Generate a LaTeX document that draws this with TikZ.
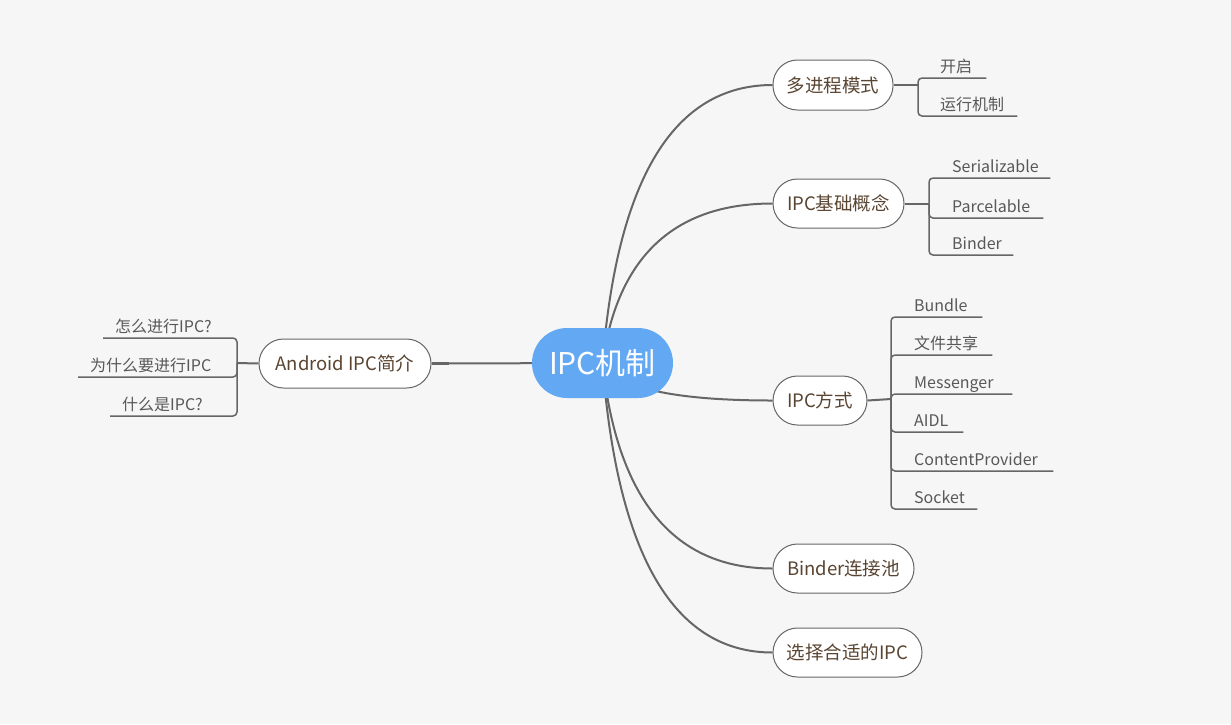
\documentclass[tikz,border=0pt]{standalone}
\usepackage{fontspec}
\setmainfont{Noto Sans CJK SC}
\pgfdeclarelayer{bglayer}
\pgfdeclarelayer{edgelayer}
\pgfsetlayers{bglayer,edgelayer,main}
\definecolor{bgc}{HTML}{F6F6F6}
\definecolor{rootc}{HTML}{62A8F3}
\definecolor{edgec}{HTML}{666666}
\definecolor{topictext}{HTML}{5A4532}
\definecolor{subtext}{HTML}{585858}
\begin{document}
\begin{tikzpicture}[x=1pt,y=-1pt,
  rootnode/.style={fill=rootc, text=white, rounded corners=35pt, minimum height=70pt, inner sep=0pt, font=\fontsize{30}{36}\selectfont},
  topic/.style={draw=edgec, line width=1pt, fill=white, rounded corners=24.5pt, minimum height=49pt, inner sep=0pt, text=topictext, font=\fontsize{18.5}{22}\selectfont},
  subitem/.style={inner xsep=0pt, inner ysep=0pt, text depth=5pt, align=left, text=subtext, font=\fontsize{16}{19}\selectfont},
  mainedge/.style={draw=edgec, line width=2pt},
  stubedge/.style={draw=edgec, line width=2pt},
  subedge/.style={draw=edgec, line width=1.5pt, rounded corners=4pt}]
\useasboundingbox (0,0) rectangle (1231,724);
\begin{pgfonlayer}{bglayer}
  \fill[bgc] (0,0) rectangle (1231,724);
\end{pgfonlayer}

% root and main topics
\node[rootnode, minimum width=141pt] (root) at (602.5,363) {IPC机制};
\node[topic, minimum width=120pt, minimum height=50pt] (n1) at (833,85) {多进程模式};
\node[topic, minimum width=131pt] (n2) at (838.5,203.5) {IPC基础概念};
\node[topic, minimum width=94pt] (n3) at (820,400.5) {IPC方式};
\node[topic, minimum width=141pt] (n4) at (843.5,568.5) {Binder连接池};
\node[topic, minimum width=149pt] (n5) at (847.5,652.5) {选择合适的IPC};
\node[topic, minimum width=172pt] (nl) at (345,363.5) {Android IPC简介};

\begin{pgfonlayer}{edgelayer}
  \draw[mainedge] (root.center) .. controls (617.3,177.7) and (674.3,85) .. (n1.west);
  \draw[mainedge] (root.center) .. controls (617.3,256.7) and (674.3,203.5) .. (n2.west);
  \draw[mainedge] (root.center) .. controls (617.3,388) and (674.3,400.5) .. (n3.west);
  \draw[mainedge] (root.center) .. controls (617.3,500) and (674.3,568.5) .. (n4.west);
  \draw[mainedge] (root.center) .. controls (617.3,556) and (674.3,652.5) .. (n5.west);
  \draw[mainedge] (root.center) -- (nl.east);
  \draw[draw=edgec, line width=3.5pt] (nl.east) -- ++(17,0);
\end{pgfonlayer}

% group 1
\coordinate (b1) at (918,85);
\draw[stubedge] (n1.east) -- (b1);
\node[subitem, anchor=south west, text width=46pt] (c11) at (940,78) {开启};
\node[subitem, anchor=south west, text width=77pt] (c12) at (940,116) {运行机制};
\draw[subedge] (b1) |- (c11.south east);
\draw[subedge] (b1) |- (c12.south east);

% group 2
\coordinate (b2) at (929,203.5);
\draw[stubedge] (n2.east) -- (b2);
\node[subitem, anchor=south west, text width=98pt] (c21) at (952,178) {Serializable};
\node[subitem, anchor=south west, text width=91pt] (c22) at (952,218) {Parcelable};
\node[subitem, anchor=south west, text width=61pt] (c23) at (952,255) {Binder};
\draw[subedge] (b2) |- (c21.south east);
\draw[subedge] (b2) |- (c22.south east);
\draw[subedge] (b2) |- (c23.south east);

% group 3
\coordinate (b3) at (891,399);
\draw[stubedge] (n3.east) -- (b3);
\node[subitem, anchor=south west, text width=68pt] (c31) at (914,317) {Bundle};
\node[subitem, anchor=south west, text width=78pt] (c32) at (914,355) {文件共享};
\node[subitem, anchor=south west, text width=98pt] (c33) at (914,394) {Messenger};
\node[subitem, anchor=south west, text width=49pt] (c34) at (914,432) {AIDL};
\node[subitem, anchor=south west, text width=139pt] (c35) at (914,471) {ContentProvider};
\node[subitem, anchor=south west, text width=63pt] (c36) at (914,509) {Socket};
\draw[subedge] (b3) |- (c31.south east);
\draw[subedge] (b3) |- (c32.south east);
\draw[subedge] (b3) |- (c33.south east);
\draw[subedge] (b3) |- (c34.south east);
\draw[subedge] (b3) |- (c35.south east);
\draw[subedge] (b3) |- (c36.south east);

% left group
\coordinate (bl) at (237,363);
\draw[stubedge] (nl.west) -- (bl);
\node[subitem, anchor=south west] (l1) at (115,338) {怎么进行IPC?};
\node[subitem, anchor=south west] (l2) at (90,377) {为什么要进行IPC};
\node[subitem, anchor=south west] (l3) at (122,416) {什么是IPC?};
\draw[subedge] (bl) |- ([xshift=-12pt]l1.south west);
\draw[subedge] (bl) |- ([xshift=-12pt]l2.south west);
\draw[subedge] (bl) |- ([xshift=-12pt]l3.south west);
\end{tikzpicture}
\end{document}
